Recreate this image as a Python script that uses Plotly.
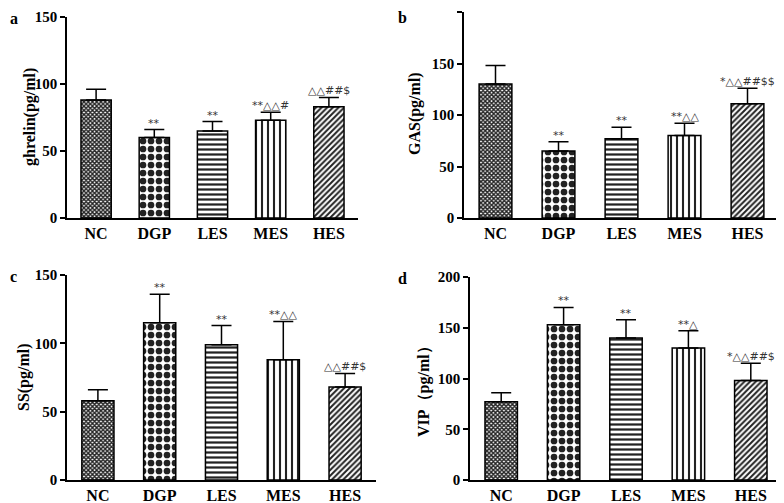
import plotly.graph_objects as go
from plotly.subplots import make_subplots

groups = ["NC", "DGP", "LES", "MES", "HES"]

ghrelin_mean = [88, 60, 65, 73, 83]
ghrelin_err = [8, 6, 7, 6, 7]
ghrelin_sig = ["", "**", "**", "**△△#", "△△##$"]

gas_mean = [130, 65, 77, 80, 111]
gas_err = [18, 9, 11, 12, 15]
gas_sig = ["", "**", "**", "**△△", "*△△##$$"]

ss_mean = [58, 115, 99, 88, 68]
ss_err = [8, 21, 14, 28, 10]
ss_sig = ["", "**", "**", "**△△", "△△##$"]

vip_mean = [77, 153, 140, 130, 98]
vip_err = [9, 17, 18, 17, 17]
vip_sig = ["", "**", "**", "**△", "*△△##$"]

panels = [
    ("a", "ghrelin(pg/ml)", ghrelin_mean, ghrelin_err, ghrelin_sig, 150),
    ("b", "GAS(pg/ml)", gas_mean, gas_err, gas_sig, 200),
    ("c", "SS(pg/ml)", ss_mean, ss_err, ss_sig, 150),
    ("d", "VIP（pg/ml）", vip_mean, vip_err, vip_sig, 200),
]

patterns = [
    dict(shape="x", size=3, solidity=0.7),
    dict(shape=".", size=8, solidity=0.55),
    dict(shape="-", size=5, solidity=0.45),
    dict(shape="|", size=6, solidity=0.35),
    dict(shape="/", size=4, solidity=0.5),
]

# page has an 8px body margin; the figure is sized to fill the rest
OFF = 8
W, H = 784 - OFF, 503 - OFF
# pixel boxes in screenshot coordinates (x0, x1, ytop, ybottom)
boxes = [
    (67, 358, 17, 218),
    (464, 779, 12, 218),
    (67, 376, 275, 480),
    (470, 782, 277, 480),
]
# y-axis title centres (screenshot pixels)
title_pos = [(30, 117), (415, 114), (24, 377), (424, 388)]
letter_pos = [(8, 18), (396, 17), (8, 276), (396, 278)]


def px(x):
    return (x - OFF) / W


def py(y):
    return 1 - (y - OFF) / H


FONT = "Liberation Serif"

fig = make_subplots(rows=2, cols=2)
cells = [(1, 1), (1, 2), (2, 1), (2, 2)]

for i, (letter, ytitle, mean, err, sig, ymax) in enumerate(panels):
    r, c = cells[i]
    fig.add_trace(
        go.Bar(
            x=groups,
            y=mean,
            width=0.52,
            marker=dict(
                color="white",
                line=dict(color="black", width=1.5),
                pattern=dict(
                    shape=[p["shape"] for p in patterns],
                    size=[p["size"] for p in patterns],
                    solidity=[p["solidity"] for p in patterns],
                    fgcolor="#222222",
                    bgcolor="white",
                    fillmode="replace",
                ),
            ),
            error_y=dict(
                type="data",
                symmetric=False,
                array=err,
                arrayminus=[0] * len(err),
                color="black",
                thickness=1.5,
                width=10,
            ),
            showlegend=False,
        ),
        row=r,
        col=c,
    )
    x0, x1, yt, yb = boxes[i]
    ax = "" if i == 0 else str(i + 1)
    fig.layout["xaxis" + ax].update(
        domain=[px(x0), min(px(x1), 1.0)],
        automargin=False,
        showline=True,
        linecolor="black",
        linewidth=1.5,
        ticks="",
        tickfont=dict(family=FONT, size=16, color="black", weight="bold"),
        showgrid=False,
        zeroline=False,
    )
    fig.layout["yaxis" + ax].update(
        domain=[py(yb), py(yt)],
        automargin=False,
        range=[0, ymax],
        dtick=50,
        showline=True,
        linecolor="black",
        linewidth=1.5,
        ticks="outside",
        ticklen=5,
        tickwidth=1.5,
        tickcolor="black",
        tickfont=dict(family=FONT, size=15, color="black", weight="bold"),
        showgrid=False,
        zeroline=False,
    )
    xref = "x" + ax
    yref = "y" + ax
    for g, m, e, s in zip(groups, mean, err, sig):
        if s:
            fig.add_annotation(
                x=g, y=m + e, xref=xref, yref=yref,
                text=s, showarrow=False, yanchor="bottom", yshift=-2,
                font=dict(family="DejaVu Sans", size=11, color="#333333"),
            )
    tx, ty = title_pos[i]
    fig.add_annotation(
        x=px(tx), y=py(ty), xref="paper", yref="paper",
        text=ytitle, textangle=-90, showarrow=False,
        xanchor="center", yanchor="middle",
        font=dict(family=FONT, size=16, color="black", weight="bold"),
    )
    lx, ly = letter_pos[i]
    fig.add_annotation(
        x=px(lx), y=py(ly), xref="paper", yref="paper",
        text=letter, showarrow=False, xanchor="left", yanchor="middle",
        font=dict(family=FONT, size=16, color="black", weight="bold"),
    )

fig.update_layout(
    width=W,
    height=H,
    margin=dict(l=0, r=0, t=0, b=0),
    paper_bgcolor="white",
    plot_bgcolor="white",
)

fig.write_html("out.html")
